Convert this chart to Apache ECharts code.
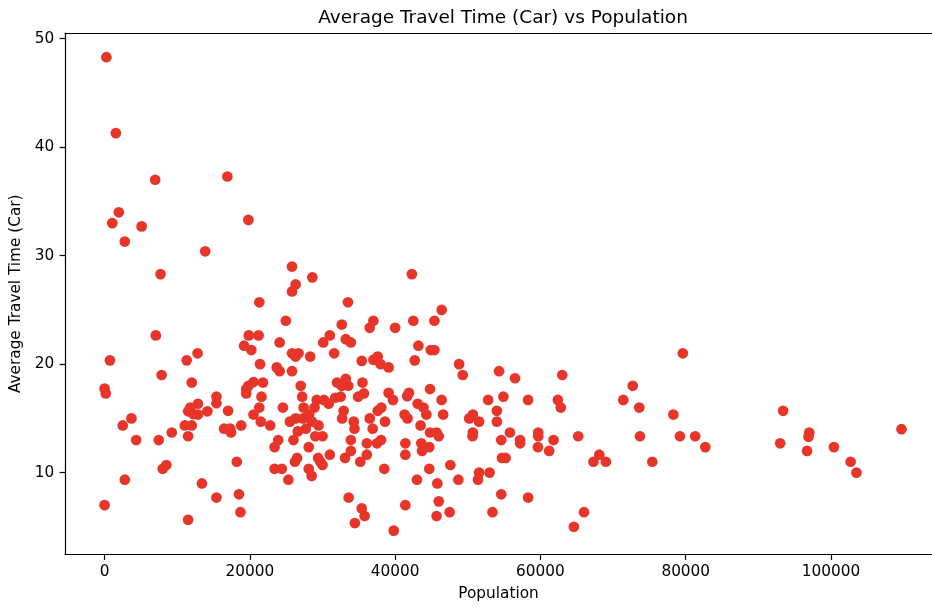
<!DOCTYPE html>
<html>
<head>
<meta charset="utf-8">
<script src="https://cdn.jsdelivr.net/npm/echarts@6/dist/echarts.min.js"></script>
<style>
  html, body { margin: 0; padding: 0; background: #fff; }
  #chart { width: 932px; height: 607px; }
</style>
</head>
<body>
<div id="chart"></div>
<script>
// Population of each area
const population = [
  250, 1550, 6960, 16900, 1960, 1060, 5100, 2780, 19800, 13850,
  7700, 25800, 28600, 26300, 25800, 42300, 21300, 33500, 46400, 24950,
  32650, 37000, 42500, 45400, 40000, 36500, 7050, 19850, 21200, 31000,
  33200, 33900, 30100, 24100, 19200, 20200, 43200, 44900, 45400, 12800,
  25800, 26700, 26300, 28300, 79600, 740, 11300, 21400, 23700, 24100,
  25800, 35400, 37000, 37600, 38000, 39100, 42700, 48800, 49300, 54300,
  56500, 63000, 7850, 12000, 19800, 20500, 21800, 19500, 19500, 27000,
  32000, 33200, 32650, 33550, 35500, 72700, 0, 160, 15400, 21600,
  27200, 29200, 30200, 31750, 32500, 34900, 35700, 39100, 39700, 41650,
  41900, 44800, 46400, 52800, 54900, 58300, 62400, 71400, 12850, 15400,
  11800, 21300, 24550, 27400, 28900, 30850, 43100, 43900, 54000, 62800,
  73600, 93400, 14150, 17000, 11500, 12850, 12200, 20500, 25500, 26300,
  27300, 28150, 28550, 32900, 32700, 36500, 37600, 38100, 34300, 38600,
  41300, 41700, 44300, 46600, 50200, 50700, 51550, 54000, 78300, 3700,
  2500, 11050, 12000, 16450, 17300, 17400, 18800, 22800, 27700, 29450,
  34400, 36900, 43500, 44800, 46000, 45700, 50700, 50650, 55800, 59700,
  59700, 97000, 96900, 109700, 9250, 4350, 7450, 11500, 23900, 26000,
  29000, 30000, 33900, 36100, 37500, 38050, 41400, 43600, 54600, 57200,
  57200, 61800, 65200, 73700, 79200, 81300, 93000, 82700, 100400, 96700,
  23400, 28100, 33900, 43700, 44700, 59650, 61200, 31000, 33100, 36100,
  41400, 26500, 26200, 29400, 29700, 35200, 18200, 54700, 55200, 67300,
  68100, 69000, 75400, 102700, 103500, 8500, 8000, 23400, 24400, 28100,
  30000, 38500, 44700, 47600, 51550, 53000, 28500, 25300, 2780, 13400,
  43000, 45800, 48700, 51400, 18500, 54600, 15400, 33600, 58300, 0,
  41400, 46000, 35400, 18700, 35800, 45700, 47500, 53400, 66000, 11500,
  34450, 64600, 39800, 31600, 21500, 26600
];

// Average travel time by car for the same areas
const travelTimeCar = [
  48.3, 41.3, 37.0, 37.3, 34.0, 33.0, 32.7, 31.3, 33.3, 30.4,
  28.3, 29.0, 28.0, 27.35, 26.7, 28.3, 25.7, 25.7, 25.0, 24.0,
  23.65, 24.0, 24.0, 24.0, 23.35, 23.35, 22.65, 22.65, 22.65, 22.65,
  22.3, 22.0, 22.0, 22.0, 21.7, 21.3, 21.7, 21.3, 21.3, 21.0,
  21.0, 21.0, 20.7, 20.7, 21.0, 20.35, 20.35, 20.0, 19.7, 19.35,
  19.35, 20.3, 20.4, 20.7, 20.0, 19.7, 20.35, 20.0, 19.0, 19.35,
  18.7, 19.0, 19.0, 18.3, 18.0, 18.35, 18.3, 17.7, 17.3, 18.0,
  18.3, 18.65, 18.0, 18.0, 18.3, 18.0, 17.75, 17.3, 17.0, 17.0,
  17.0, 16.7, 16.7, 16.9, 17.0, 17.0, 17.3, 17.35, 16.7, 17.05,
  17.35, 17.7, 16.7, 16.7, 17.0, 16.7, 16.7, 16.7, 16.35, 16.4,
  16.0, 16.0, 16.0, 16.0, 16.0, 16.35, 16.35, 16.0, 15.7, 16.0,
  16.0, 15.7, 15.65, 15.7, 15.65, 15.35, 15.4, 15.35, 14.7, 15.0,
  15.0, 15.35, 14.7, 15.7, 15.0, 15.0, 15.7, 16.0, 14.7, 14.7,
  15.35, 15.0, 15.35, 15.35, 15.0, 15.35, 14.7, 14.7, 15.35, 15.0,
  14.35, 14.35, 14.35, 14.05, 14.05, 13.7, 14.35, 14.35, 14.05, 14.35,
  14.05, 14.05, 14.35, 13.7, 13.35, 13.7, 13.7, 13.35, 13.7, 13.7,
  13.35, 13.7, 13.3, 14.0, 13.7, 13.0, 13.0, 13.35, 13.0, 13.0,
  13.35, 13.35, 13.0, 12.7, 12.7, 13.0, 12.7, 12.7, 13.0, 13.0,
  12.7, 13.0, 13.35, 13.35, 13.35, 13.35, 12.7, 12.35, 12.35, 12.0,
  12.35, 12.35, 12.0, 12.0, 12.35, 12.35, 12.0, 11.65, 11.35, 11.65,
  11.65, 11.35, 11.0, 11.35, 11.0, 11.0, 11.0, 11.35, 11.35, 11.0,
  11.65, 11.0, 11.0, 11.0, 10.0, 10.7, 10.35, 10.35, 10.35, 10.35,
  10.7, 10.35, 10.35, 10.7, 10.0, 10.0, 9.7, 9.35, 9.35, 9.0,
  9.35, 9.0, 9.35, 9.35, 8.0, 8.0, 7.7, 7.7, 7.7, 7.0,
  7.0, 7.35, 6.7, 6.35, 6.0, 6.0, 6.35, 6.35, 6.35, 5.65,
  5.35, 5.0, 4.65, 21.0, 14.7, 13.8
];

// Tick labels
const xTicks = [0, 20000, 40000, 60000, 80000, 100000];
const yTicks = [10, 20, 30, 40, 50];

const points = population.map((p, i) => [p, travelTimeCar[i]]);

const FONT = 'DejaVu Sans';
const chart = echarts.init(document.getElementById('chart'), null, { renderer: 'canvas' });

chart.setOption({
  animation: false,
  backgroundColor: '#ffffff',
  textStyle: { fontFamily: FONT },
  graphic: [{
    type: 'text',
    x: 503,
    y: 17.8,
    style: {
      text: 'Average Travel Time (Car) vs Population',
      font: '18.5px "DejaVu Sans"',
      fill: '#000',
      align: 'center',
      verticalAlign: 'middle'
    }
  }],
  grid: { left: 65, right: 0, top: 33, bottom: 51, containLabel: false },
  xAxis: [{
    type: 'value',
    min: -5450,
    max: 113900,
    name: 'Population',
    nameLocation: 'middle',
    nameGap: 32.5,
    nameTextStyle: { fontFamily: FONT, fontSize: 15.3, color: '#000' },
    axisLine: { show: true, onZero: false, lineStyle: { color: '#000', width: 1.2 } },
    axisTick: { show: true, length: 5.4, lineStyle: { color: '#000', width: 1.2 }, customValues: xTicks },
    axisLabel: {
      fontFamily: FONT, fontSize: 15.3, color: '#000', margin: 10.5,
      customValues: xTicks,
      formatter: v => String(v)
    },
    splitLine: { show: false }
  }, {
    type: 'value',
    position: 'top',
    min: -5450,
    max: 113900,
    axisLine: { show: true, onZero: false, lineStyle: { color: '#000', width: 1.2 } },
    axisTick: { show: false },
    axisLabel: { show: false },
    splitLine: { show: false }
  }],
  yAxis: {
    type: 'value',
    min: 2.45,
    max: 50.53,
    name: 'Average Travel Time (Car)',
    nameLocation: 'middle',
    nameGap: 37.5,
    nameRotate: 90,
    nameTextStyle: { fontFamily: FONT, fontSize: 15.3, color: '#000' },
    axisLine: { show: true, onZero: false, lineStyle: { color: '#000', width: 1.2 } },
    axisTick: { show: true, length: 5.4, lineStyle: { color: '#000', width: 1.2 }, customValues: yTicks },
    axisLabel: {
      fontFamily: FONT, fontSize: 15.3, color: '#000', margin: 10.7,
      customValues: yTicks,
      formatter: v => String(v)
    },
    splitLine: { show: false }
  },
  series: [{
    type: 'scatter',
    xAxisIndex: 0,
    data: points,
    symbol: 'circle',
    symbolSize: 10.7,
    itemStyle: { color: '#e8352a', opacity: 1 },
    emphasis: { disabled: true }
  }]
});
</script>
</body>
</html>
